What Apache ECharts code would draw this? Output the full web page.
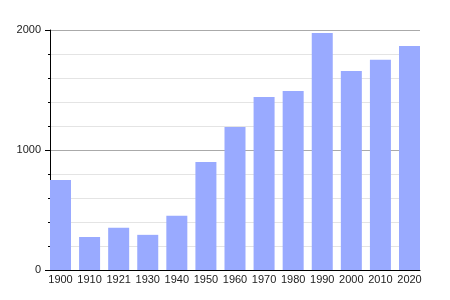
<!DOCTYPE html>
<html><head><meta charset="utf-8">
<script src="https://cdn.jsdelivr.net/npm/echarts@6/dist/echarts.min.js"></script>
<style>html,body{margin:0;padding:0;background:#fff}#c{width:450px;height:300px}</style>
</head><body><div id="c"></div>
<script>
const years = ['1900','1910','1921','1930','1940','1950','1960','1970','1980','1990','2000','2010','2020'];
const population = [750, 275, 352, 293, 452, 900, 1192, 1441, 1492, 1975, 1658, 1752, 1867];
const yTicks = [0, 1000, 2000];

const chart = echarts.init(document.getElementById('c'), null, {renderer:'canvas'});
const idx = years.map((_, i) => i);
chart.setOption({
  animation: false,
  backgroundColor: '#fff',
  grid: {left: 50, right: 30, top: 30, bottom: 30, containLabel: false},
  xAxis: {
    type: 'value', min: -0.361, max: years.length - 1 + 0.361,
    axisLine: {show: true, onZero: false, lineStyle: {color: '#000', width: 1}},
    axisTick: {show: false},
    splitLine: {show: false},
    axisLabel: {customValues: idx, formatter: v => years[Math.round(v)], color: '#222',
      fontFamily: 'Liberation Sans, Arial, sans-serif', fontSize: 11, margin: 4}
  },
  yAxis: {
    type: 'value', min: yTicks[0], max: yTicks[yTicks.length-1], interval: 1000,
    axisLine: {show: true, onZero: false, lineStyle: {color: '#000', width: 1}},
    axisTick: {show: true, length: 5, lineStyle: {color: '#000'}},
    minorTick: {show: true, splitNumber: 5, length: 2, lineStyle: {color: '#000'}},
    splitLine: {show: true, lineStyle: {color: '#aaa', width: 1}},
    minorSplitLine: {show: true, lineStyle: {color: '#e4e4e4', width: 1}},
    axisLabel: {customValues: yTicks, formatter: v => String(v), color: '#222',
      fontFamily: 'Liberation Sans, Arial, sans-serif', fontSize: 11, margin: 9}
  },
  series: [{
    type: 'bar', barWidth: 21,
    data: population.map((v, i) => [i, v]),
    itemStyle: {color: '#99aaff'}
  }]
});
</script></body></html>
